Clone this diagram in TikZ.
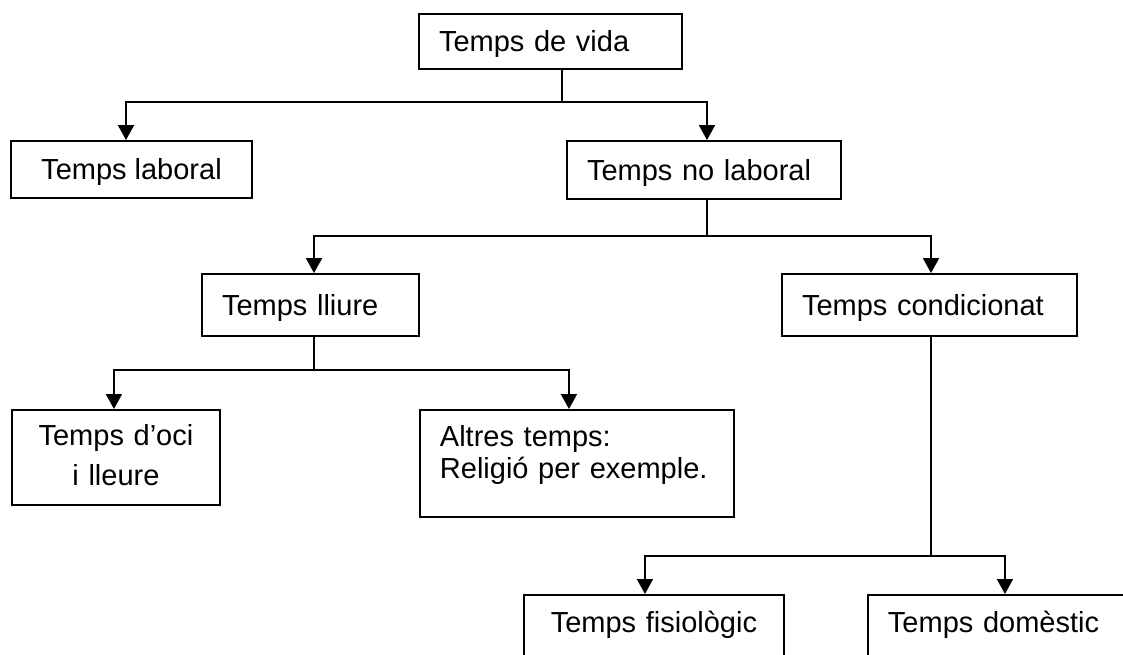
\documentclass[tikz,border=0pt]{standalone}
\usepackage{fontspec}
\setmainfont{Liberation Sans}
\usetikzlibrary{arrows.meta}
\tikzset{
  bx/.style={draw, line width=1.9pt, inner ysep=0pt, font=\fontsize{29pt}{35pt}\selectfont, text height=20.8pt, text depth=0pt},
  lbx/.style={bx, inner xsep=20pt, align=left},
  cbx/.style={bx, inner xsep=0pt, align=center},
  ln/.style={line width=1.9pt},
  arr/.style={line width=1.9pt, -{Triangle[width=16pt,length=15pt]}}
}
\begin{document}
\begin{tikzpicture}[x=1pt,y=-1pt]
\useasboundingbox (0,0) rectangle (1123,655);
\fill[white] (0,0) rectangle (1123,655);
% boxes
\node[lbx, text width=223pt, minimum height=55pt] (vida) at (550.5,41.5) {Temps de vida};
\node[cbx, minimum width=241pt, minimum height=57pt] (laboral) at (131.5,169.5) {Temps laboral};
\node[lbx, text width=234pt, minimum height=58pt] (nolab) at (704,170) {Temps no laboral};
\node[lbx, text width=177pt, minimum height=62pt] (lliure) at (310.5,305) {Temps lliure};
\node[lbx, text width=255pt, minimum height=62pt] (cond) at (929.5,305) {Temps condicionat};
\node[cbx, anchor=north west, text width=208pt, text height=36pt, text depth=59pt,
      font=\fontsize{29pt}{40pt}\selectfont] (oci) at (11,409) {Temps d’oci\\i lleure};
\node[lbx, anchor=north west, text width=274pt, text height=37pt, text depth=70pt,
      font=\fontsize{29pt}{32pt}\selectfont] (altres) at (419,409) {Altres temps:\\Religió per exemple.};
\node[cbx, anchor=north west, text width=260pt, text height=37.7pt, text depth=40pt] (fisio) at (523,594) {Temps fisiològic};
\node[lbx, anchor=north west, text width=233pt, text height=37.7pt, text depth=40pt] (domes) at (867,594) {Temps domèstic};
% bus levels
\coordinate (bus1) at (0,102);
\coordinate (bus2) at (0,236);
\coordinate (bus3) at (0,370);
\coordinate (bus4) at (0,556);
% level 1
\draw[ln] ([xshift=11.5pt]vida.south) coordinate (s1) -- (s1 |- bus1);
\draw[arr] (s1 |- bus1) -| ([xshift=-5.5pt]laboral.north);
\draw[arr] (s1 |- bus1) -| ([xshift=3pt]nolab.north);
% level 2
\draw[ln] ([xshift=3pt]nolab.south) coordinate (s2) -- (s2 |- bus2);
\draw[arr] (s2 |- bus2) -| ([xshift=3.5pt]lliure.north);
\draw[arr] (s2 |- bus2) -| ([xshift=1.5pt]cond.north);
% level 3
\draw[ln] ([xshift=3.5pt]lliure.south) coordinate (s3) -- (s3 |- bus3);
\draw[arr] (s3 |- bus3) -| ([xshift=-2pt]oci.north);
\draw[arr] (s3 |- bus3) -| ([xshift=-8pt]altres.north);
% level 4
\draw[ln] ([xshift=1.5pt]cond.south) coordinate (s4) -- (s4 |- bus4);
\draw[arr] (s4 |- bus4) -| ([xshift=-9pt]fisio.north);
\draw[arr] (s4 |- bus4) -| ([xshift=0.5pt]domes.north);
\end{tikzpicture}
\end{document}
